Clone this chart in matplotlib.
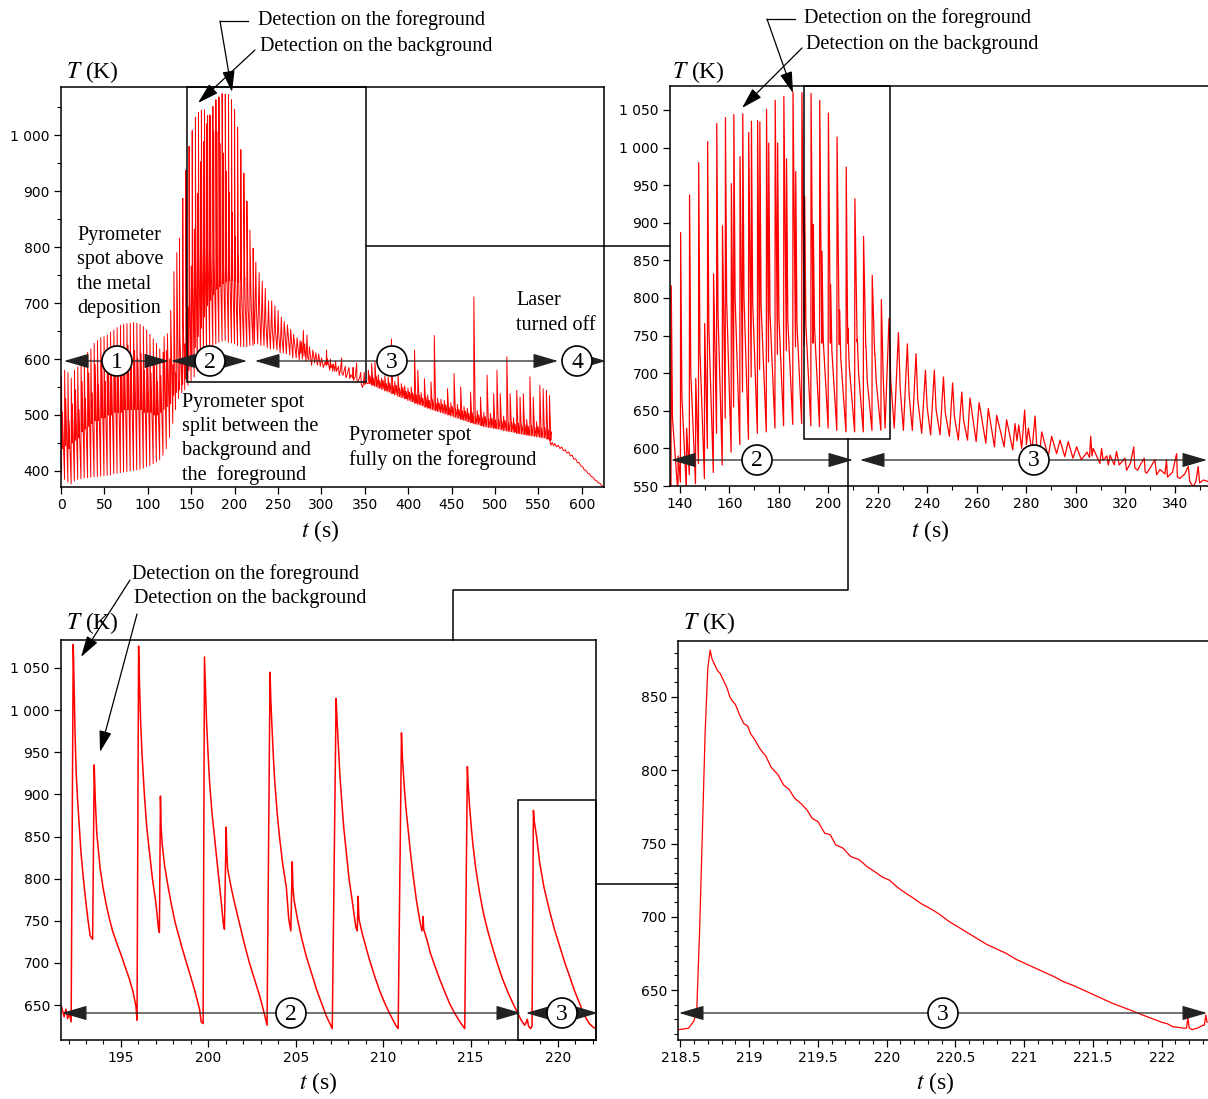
import matplotlib.pyplot as plt
from matplotlib.patches import Circle, Rectangle
from matplotlib.ticker import MultipleLocator, FuncFormatter

# ---------------- data ----------------
# panel 1, 0-136 s : one foreground + one background spike per laser pass
p1a_fg_t = [0.4, 4.2, 8.0, 11.8, 15.5, 19.3, 23.1, 26.9, 30.7, 34.4, 38.2, 42.0,
            45.8, 49.6, 53.3, 57.1, 60.9, 64.7, 68.5, 72.2, 76.0, 79.8, 83.6, 87.4,
            91.1, 94.9, 98.7, 102.5, 106.3, 110.0, 113.8, 117.6, 121.4, 125.2, 128.9, 132.0]
p1a_fg_T = [570, 580, 576, 566, 580, 586, 592, 600, 612, 618, 628, 633,
            638, 640, 643, 648, 652, 656, 660, 662, 663, 664, 665, 664,
            662, 658, 652, 644, 636, 628, 618, 612, 615, 600, 590, 575]
p1a_bg_t = [1.6, 5.4, 9.2, 13.0, 16.7, 20.5, 24.3, 28.1, 31.9, 35.6, 39.4, 43.2,
            47.0, 50.8, 54.5, 58.3, 62.1, 65.9, 69.7, 73.4, 77.2, 81.0, 84.8, 88.6,
            92.3, 96.1, 99.9, 103.7, 107.5, 111.2, 115.0, 118.8, 122.6, 126.4, 130.1, 133.4]
p1a_bg_T = [505, 530, 490, 520, 545, 510, 560, 530, 575, 540, 590, 555,
            600, 560, 610, 575, 615, 580, 620, 590, 625, 585, 615, 600,
            610, 580, 600, 575, 590, 560, 570, 640, 645, 687, 756, 790]
p1a_mid_T = [440, 445, 440, 450, 455, 460, 470, 475, 480, 485, 490, 490,
             495, 495, 500, 500, 505, 505, 505, 510, 510, 510, 510, 510,
             510, 505, 505, 505, 500, 500, 505, 510, 515, 520, 535, 540]
p1a_tr_T = [395, 385, 380, 377, 382, 385, 386, 388, 388, 389, 390, 390,
            391, 392, 392, 393, 395, 396, 397, 398, 399, 400, 401, 402,
            403, 405, 408, 410, 413, 416, 420, 428, 440, 460, 485, 510]

# panel 2 (also used by panel 1), 135-219 s
p2_fg_t = [135.5, 139.3, 142.7, 146.4, 150.0, 153.6, 157.2, 160.8, 164.3, 167.8, 171.4, 175.0,
           178.5, 182.0, 185.7, 189.3, 193.0, 196.5, 200.0, 203.5, 207.2, 210.7, 214.2, 217.7]
p2_fg_T = [560, 590, 627, 693, 766, 832, 896, 952, 988, 1020, 1036, 1051,
           1063, 1068, 1074, 1073, 1072, 1063, 1046, 1014, 974, 932, 882, 830]
p2_bg_t = [136.5, 140.3, 143.9, 147.6, 151.2, 154.9, 158.4, 161.8, 165.4, 168.9, 172.3, 175.9,
           179.5, 183.1, 186.8, 190.4, 193.9, 197.4, 200.9, 204.5, 207.9, 211.7, 215.2, 218.8]
p2_bg_T = [816, 887, 937, 980, 1008, 1032, 1040, 1044, 1045, 1035, 1034, 1006,
           1006, 985, 968, 935, 898, 862, 818, 784, 760, 745, 735, 725]
p2_mid_T = [545, 555, 565, 580, 600, 620, 640, 655, 675, 695, 705, 715,
            725, 730, 735, 738, 740, 740, 740, 738, 740, 742, 735, 725]
p2_knee_T = [640, 670, 700, 730, 760, 780, 795, 800, 800, 795, 790, 780,
             775, 770, 765, 765, 760, 745, 730, 720, 710, 700, 690, 690]
p2_tr_T = [530, 540, 545, 553, 560, 568, 578, 595, 605, 612, 620, 622,
           627, 630, 632, 633, 630, 629, 627, 624, 622, 622, 622, 624]

# panel 2 tail, 221-354 s (t, T)
p2_tail = [(221.2, 624), (221.4, 798), (222.1, 700), (222.9, 627), (224.5, 773), (225.2, 690),
           (226.6, 627), (228.3, 754), (229.0, 680), (230.3, 624), (231.9, 739), (232.6, 672),
           (233.9, 624), (235.4, 726), (236.1, 665), (237.7, 620), (239.2, 704), (239.9, 655),
           (241.3, 618), (242.8, 704), (243.5, 652), (245.1, 618), (246.5, 695), (247.2, 648),
           (248.9, 616), (250.2, 687), (250.9, 643), (252.5, 611), (253.9, 675), (254.6, 638),
           (256.2, 611), (257.2, 667), (259.7, 609), (260.9, 661), (263.6, 607), (264.6, 653),
           (267.1, 602), (268.0, 644), (271.0, 602), (272.0, 638), (274.5, 598), (275.4, 633),
           (276.2, 610), (276.9, 631), (278.1, 600), (279.3, 651), (280.0, 605), (280.8, 627),
           (282.2, 596), (283.5, 643), (284.2, 603), (285.5, 598), (286.2, 622), (288.8, 589),
           (290.2, 616), (292.2, 593), (293.6, 611), (295.5, 589), (296.9, 609), (298.8, 587),
           (300.3, 602), (302.2, 585), (304.5, 595), (305.5, 588), (306.0, 616), (306.5, 590),
           (307.0, 600), (309.7, 580), (310.4, 600), (311.0, 584), (312.5, 590), (313.1, 578),
           (313.8, 591), (315.5, 578), (316.4, 596), (317.5, 578), (319.8, 587), (320.5, 571),
           (322.0, 580), (323.4, 602), (323.8, 574), (325.0, 571), (326.0, 578), (327.6, 587),
           (328.0, 569), (328.6, 567), (330.0, 574), (331.9, 585), (332.6, 565), (334.0, 572),
           (336.0, 566), (336.6, 585), (337.0, 562), (339.0, 568), (340.7, 593), (341.0, 562),
           (342.0, 560), (344.0, 566), (345.4, 576), (346.0, 556), (347.4, 549), (348.5, 556),
           (349.4, 576), (350.0, 554), (351.5, 558), (353.3, 556)]

# panel 1, 354-563 s : trough, main spike and small second spike of each pass
p1b_t = [354.0, 357.8, 361.6, 365.4, 369.2, 373.0, 376.8, 380.6, 384.4, 388.2, 392.0, 395.8,
         399.6, 403.4, 407.2, 411.0, 414.8, 418.6, 422.4, 426.2, 430.0, 433.8, 437.6, 441.4,
         445.2, 449.0, 452.8, 456.6, 460.4, 464.2, 468.0, 471.8, 475.6, 479.4, 483.2, 487.0,
         490.8, 494.6, 498.4, 502.2, 506.0, 509.8, 513.6, 517.4, 521.2, 525.0, 528.8, 532.6,
         536.4, 540.2, 544.0, 547.8, 551.6, 555.4, 559.2, 562.7]
p1b_lo = [556, 553, 551, 548, 546, 543, 541, 538, 536, 533, 531, 529,
          526, 524, 521, 519, 517, 514, 512, 510, 508, 506, 504, 502,
          500, 498, 496, 494, 492, 490, 488, 486, 484, 483, 481, 479,
          478, 477, 476, 475, 474, 472, 471, 470, 469, 467, 466, 465,
          464, 463, 462, 461, 460, 459, 457, 455]
p1b_hi = [580, 592, 595, 572, 566, 570, 568, 636, 560, 571, 556, 552,
          548, 550, 616, 580, 540, 565, 536, 559, 642, 530, 528, 526,
          547, 522, 574, 519, 550, 515, 512, 541, 711, 508, 532, 505,
          571, 503, 538, 580, 538, 498, 604, 538, 495, 544, 532, 538,
          492, 568, 532, 488, 553, 547, 544, 535]
p1b_hi2 = [570, 566, 568, 561, 562, 556, 557, 552, 553, 547, 549, 542,
           541, 539, 536, 535, 530, 531, 526, 527, 522, 521, 519, 518,
           514, 515, 511, 510, 507, 507, 503, 504, 499, 500, 496, 497,
           493, 494, 491, 492, 489, 490, 486, 487, 484, 485, 482, 483,
           480, 481, 478, 479, 476, 478, 474, 470]

# panel 1, laser off (t, T)
p1_cool = [(563.5, 452), (564.5, 446), (566, 451), (567.5, 445), (569, 449), (571, 443),
           (573, 446), (575, 440), (577, 443), (579, 436), (581, 438), (583, 432),
           (585, 434), (587, 427), (589, 428), (591, 421), (593, 422), (595, 415),
           (597, 415), (599, 409), (601, 408), (603, 402), (605, 401), (607, 396),
           (609, 395), (611, 390), (613, 389), (615, 384), (617, 383), (619, 379),
           (621, 378), (623, 374), (625, 372)]

# panel 3, 191.6-222.2 s (t, T)
p3 = [(191.6, 648), (191.75, 636), (191.85, 645), (191.95, 634), (192.05, 640), (192.15, 630),
      (192.27, 1078), (192.31, 1040), (192.37, 975), (192.44, 925), (192.52, 893), (192.62, 860),
      (192.71, 832), (192.85, 800), (193.0, 771), (193.12, 750), (193.24, 732), (193.38, 728),
      (193.47, 935), (193.53, 894), (193.62, 853), (193.81, 812), (193.97, 790), (194.14, 771),
      (194.32, 754), (194.52, 738), (194.75, 724), (195.0, 710), (195.25, 695), (195.48, 681),
      (195.7, 665), (195.86, 648), (195.92, 632),
      (196.01, 1076), (196.05, 1040), (196.12, 990), (196.2, 950), (196.34, 900), (196.48, 860),
      (196.63, 832), (196.8, 800), (197.0, 771), (197.14, 742), (197.2, 736), (197.26, 898),
      (197.3, 860), (197.36, 841), (197.5, 815), (197.7, 790), (197.87, 771), (198.1, 748),
      (198.44, 722), (198.75, 700), (199.0, 683), (199.25, 665), (199.5, 645), (199.59, 630),
      (199.7, 628), (199.78, 1063), (199.83, 1030), (199.9, 985), (199.98, 950), (200.07, 915),
      (200.2, 880), (200.35, 850), (200.55, 810), (200.74, 772), (200.85, 748), (200.92, 740),
      (201.02, 861), (201.06, 830), (201.1, 812), (201.3, 790), (201.5, 771), (201.8, 745),
      (202.07, 722), (202.35, 700), (202.65, 680), (202.95, 660), (203.2, 640), (203.36, 626),
      (203.53, 1045), (203.58, 1010), (203.63, 985), (203.72, 945), (203.8, 915), (203.95, 875),
      (204.08, 848), (204.25, 818), (204.46, 790), (204.6, 752), (204.72, 738), (204.8, 820),
      (204.84, 790), (204.9, 775), (205.1, 752), (205.33, 730), (205.6, 708), (205.9, 688),
      (206.2, 668), (206.48, 652), (206.75, 637), (206.95, 628), (207.09, 622),
      (207.31, 1014), (207.36, 990), (207.42, 965), (207.52, 925), (207.62, 895), (207.75, 860),
      (207.9, 830), (208.05, 800), (208.19, 780), (208.32, 760), (208.44, 742), (208.52, 738),
      (208.57, 779), (208.6, 760), (208.63, 751), (208.8, 735), (208.95, 724), (209.2, 705),
      (209.52, 684), (209.8, 667), (210.1, 652), (210.35, 641), (210.57, 632), (210.75, 625),
      (210.86, 622),
      (211.05, 973), (211.1, 945), (211.2, 912), (211.3, 885), (211.43, 858), (211.57, 830),
      (211.71, 805), (211.9, 775), (212.1, 750), (212.22, 738), (212.27, 742), (212.29, 755),
      (212.32, 740), (212.5, 728), (212.7, 712), (212.95, 697), (213.25, 680), (213.52, 666),
      (213.8, 652), (214.1, 640), (214.4, 630), (214.67, 622),
      (214.82, 933), (214.87, 910), (214.95, 885), (215.05, 860), (215.14, 840), (215.3, 812),
      (215.52, 783), (215.75, 758), (216.0, 737), (216.3, 715), (216.57, 697), (216.85, 680),
      (217.14, 665), (217.45, 651), (217.71, 640), (217.9, 632), (218.1, 626), (218.2, 630),
      (218.25, 633), (218.32, 625), (218.44, 622), (218.52, 625),
      (218.6, 881), (218.65, 868), (218.78, 850), (218.95, 820), (219.2, 790), (219.52, 762),
      (219.8, 740), (220.1, 720), (220.4, 700), (220.67, 684), (220.95, 667), (221.24, 652),
      (221.45, 641), (221.62, 634), (221.8, 628), (222.0, 624), (222.15, 622), (222.24, 628)]

# panel 4, one pass (t, T)
p4 = [(218.49, 623), (218.53, 623.5), (218.56, 624), (218.6, 629), (218.62, 638), (218.64, 690),
      (218.66, 757), (218.68, 825), (218.70, 870), (218.717, 882), (218.73, 876), (218.75, 872),
      (218.77, 868), (218.79, 866), (218.815, 861), (218.84, 856), (218.86, 850), (218.88, 847),
      (218.9, 845), (218.93, 838), (218.96, 832), (218.99, 830), (219.01, 825), (219.04, 821),
      (219.07, 816), (219.1, 812), (219.12, 810), (219.16, 802), (219.21, 797), (219.25, 790),
      (219.29, 787), (219.33, 781), (219.38, 777), (219.42, 773), (219.46, 767), (219.5, 765),
      (219.55, 757), (219.59, 756), (219.63, 749), (219.68, 747), (219.74, 741), (219.8, 739),
      (219.86, 734), (219.91, 731), (219.97, 727), (220.02, 725), (220.08, 720), (220.14, 716),
      (220.19, 713), (220.25, 709), (220.31, 706), (220.38, 702), (220.45, 697), (220.52, 693),
      (220.59, 689), (220.66, 685), (220.73, 681), (220.8, 678), (220.87, 675), (220.94, 671),
      (221.01, 668), (221.08, 665), (221.15, 662), (221.22, 659), (221.29, 655.5), (221.36, 653),
      (221.43, 650), (221.5, 647), (221.57, 644), (221.64, 641), (221.71, 638.5), (221.78, 636),
      (221.86, 633), (221.93, 630.5), (222.0, 628), (222.04, 627), (222.08, 625), (222.12, 624.5),
      (222.16, 624), (222.18, 624), (222.19, 631), (222.2, 624), (222.22, 623), (222.26, 624),
      (222.3, 626), (222.31, 626), (222.32, 633), (222.33, 628)]


def passes(tr, fg_t, fg, mid, bg_t, bg, knee=None):
    t, T = [], []
    for i in range(len(fg_t)):
        t += [fg_t[i] - 0.1, fg_t[i], bg_t[i] - 0.1, bg_t[i]]
        T += [tr[i], fg[i], mid[i], bg[i]]
        if knee is not None:
            t.append(bg_t[i] + 0.5)
            T.append(knee[i])
    return t, T


def zigzag(ts, lo, hi, hi2):
    t, T = [], []
    for a, b, c, d in zip(ts, lo, hi, hi2):
        t += [a, a + 0.15, a + 1.8, a + 1.95]
        T += [b, c, b, d]
    return t, T


def unzip(pts):
    return [p[0] for p in pts], [p[1] for p in pts]


a_t, a_T = passes(p1a_tr_T, p1a_fg_t, p1a_fg_T, p1a_mid_T, p1a_bg_t, p1a_bg_T)
b_t, b_T = passes(p2_tr_T, p2_fg_t, p2_fg_T, p2_mid_T, p2_bg_t, p2_bg_T, p2_knee_T)
c_t, c_T = unzip(p2_tail)
d_t, d_T = zigzag(p1b_t, p1b_lo, p1b_hi, p1b_hi2)
e_t, e_T = unzip(p1_cool)

p2_t = b_t + c_t
p2_T = b_T + c_T
p1_t = a_t + p2_t + d_t + e_t
p1_T = a_T + p2_T + d_T + e_T

# ---------------- figure ----------------
plt.rcParams['font.family'] = ['DejaVu Sans']
plt.rcParams['mathtext.fontset'] = 'stix'
SERIF = ['Liberation Serif', 'DejaVu Serif']

W, H = 1208, 1099
fig = plt.figure(figsize=(W / 100, H / 100), dpi=100)


def add_ax(left, top, right, bottom):
    return fig.add_axes([left / W, 1 - bottom / H, (right - left) / W, (bottom - top) / H])


def style(ax, xmaj, xmin, ymaj, ymin, xfmt=None):
    ax.xaxis.set_major_locator(MultipleLocator(xmaj))
    if xmin:
        ax.xaxis.set_minor_locator(MultipleLocator(xmin))
    ax.yaxis.set_major_locator(MultipleLocator(ymaj))
    if ymin:
        ax.yaxis.set_minor_locator(MultipleLocator(ymin))
    ax.yaxis.set_major_formatter(FuncFormatter(lambda v, _: f"{v:,.0f}".replace(",", " ")))
    if xfmt:
        ax.xaxis.set_major_formatter(FuncFormatter(xfmt))
    ax.tick_params(which='major', direction='out', length=5, width=0.9, labelsize=10, pad=3)
    ax.tick_params(which='minor', direction='out', length=3, width=0.8)
    for s in ax.spines.values():
        s.set_linewidth(1.1)


ax1 = add_ax(61, 87, 604, 487)
ax1.plot(p1_t, p1_T, color='red', lw=0.7)
ax1.set_xlim(0, 625.7)
ax1.set_ylim(371.4, 1085.8)
style(ax1, 50, None, 100, 50)

ax2 = add_ax(670, 86, 1214, 486)
ax2.plot(p2_t, p2_T, color='red', lw=0.9)
ax2.set_xlim(136, 355.8)
ax2.set_ylim(550, 1081.9)
style(ax2, 20, 10, 50, None)

ax3 = add_ax(61, 640, 596, 1040)
p3_t, p3_T = unzip(p3)
ax3.plot(p3_t, p3_T, color='red', lw=1.1)
ax3.set_xlim(191.57, 222.18)
ax3.set_ylim(608.5, 1083.2)
style(ax3, 5, 1, 50, None)

ax4 = add_ax(678, 641, 1214, 1040)
p4_t, p4_T = unzip(p4)
ax4.plot(p4_t, p4_T, color='red', lw=0.9)
ax4.set_xlim(218.483, 222.38)
ax4.set_ylim(615.9, 888.2)
style(ax4, 0.5, 0.1, 50, 10, xfmt=lambda v, _: f"{v:g}")

# ---------------- overlay: boxes, connectors, labels ----------------
ov = fig.add_axes([0, 0, 1, 1], zorder=10)
ov.set_xlim(0, W)
ov.set_ylim(H, 0)
ov.axis('off')
ov.patch.set_alpha(0)

LW = 1.1
for (x0, y0, x1, y1) in [(187, 87, 366, 382), (804, 86, 890, 439), (518, 800, 596, 1040)]:
    ov.add_patch(Rectangle((x0, y0), x1 - x0, y1 - y0, fill=False, ec='black', lw=LW))
for xs, ys in [([366, 670], [246, 246]),
               ([848, 848, 453, 453], [439, 590, 590, 640]),
               ([596, 678], [884, 884])]:
    ov.plot(xs, ys, color='black', lw=LW)


def arrow(x0, y0, x1, y1, both=False, scale=12, color='black', lw=0.9):
    st = '<|-|>' if both else '-|>'
    ov.annotate('', xy=(x1, y1), xytext=(x0, y0), zorder=2,
                arrowprops=dict(arrowstyle=f'{st},head_length=1.3,head_width=0.38',
                                color=color, lw=lw, shrinkA=0, shrinkB=0,
                                mutation_scale=scale))


def circled(x, y, s):
    ov.add_patch(Circle((x, y), 15, fc='white', ec='black', lw=1.2, zorder=5))
    ov.text(x, y + 1, s, ha='center', va='center', fontsize=17, family=SERIF, zorder=6)


# region markers
for x0, x1, y in [(64, 169, 361), (171, 247, 361), (255, 558, 361), (562, 606, 361),
                  (671, 853, 460), (860, 1207, 460),
                  (62, 521, 1013), (526, 598, 1013), (679, 1207, 1013)]:
    arrow(x0, y, x1, y, both=True, color='#222222')
for x, y, s in [(117, 361, '1'), (210, 361, '2'), (392, 361, '3'), (577, 361, '4'),
                (757, 460, '2'), (1034, 460, '3'),
                (291, 1013, '2'), (562, 1013, '3'), (943, 1013, '3')]:
    circled(x, y, s)

# detection annotations
TS = 14.5
for tx, ty1, ty2 in [(258, 20, 46), (804, 18, 44), (132, 574, 599)]:
    ov.text(tx, ty1, 'Detection on the foreground', fontsize=TS, family=SERIF, va='center')
    ov.text(tx + 2, ty2, 'Detection on the background', fontsize=TS, family=SERIF, va='center')
ov.plot([248, 220], [21, 21], color='black', lw=0.9)
arrow(220, 21, 232, 92, scale=10)
arrow(255, 50, 198, 103, scale=10)
ov.plot([795, 767], [19, 19], color='black', lw=0.9)
arrow(767, 19, 793, 93, scale=10)
arrow(802, 48, 742, 108, scale=10)
arrow(130, 580, 81, 657, scale=10)
arrow(137, 614, 100, 752, scale=10)

# descriptive labels
LS = 1.37
ov.text(77, 272, 'Pyrometer\nspot above\nthe metal\ndeposition', fontsize=TS, family=SERIF,
        va='center', linespacing=LS)
ov.text(182, 439, 'Pyrometer spot\nsplit between the\nbackground and\nthe  foreground',
        fontsize=TS, family=SERIF, va='center', linespacing=LS)
ov.text(349, 448, 'Pyrometer spot\nfully on the foreground', fontsize=TS, family=SERIF,
        va='center', linespacing=LS)
ov.text(516, 313, 'Laser\nturned off', fontsize=TS, family=SERIF, va='center', linespacing=LS)

# axis titles
for x, y in [(66, 72), (672, 72), (66, 623), (683, 623)]:
    ov.text(x, y, r'$T$ (K)', fontsize=17, family=SERIF, va='center')
for x, y in [(320, 531), (930, 531), (318, 1083), (935, 1083)]:
    ov.text(x, y, r'$t$ (s)', fontsize=17, family=SERIF, va='center', ha='center')

fig.savefig('out.png', dpi=100)
